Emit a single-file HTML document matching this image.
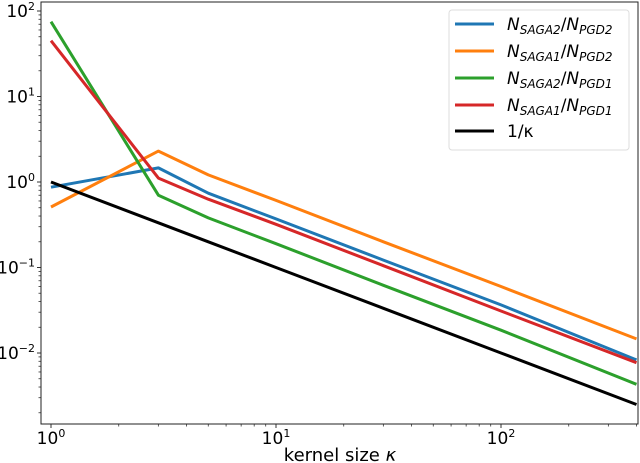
<!DOCTYPE html>
<html><head><meta charset="utf-8"><style>
html,body{margin:0;padding:0;background:#fff;}
svg{display:block;font-family:"DejaVu Sans","Liberation Sans",sans-serif;}
</style></head><body>
<svg id="chart" width="640" height="463" viewBox="0 0 640 463"></svg>
<script>
const kappa = [1, 3, 5, 10, 30, 100, 400];
const saga2pgd2 = [0.87, 1.46, 0.74, 0.37, 0.122, 0.0365, 0.0083];
const saga1pgd2 = [0.51, 2.3, 1.21, 0.61, 0.20, 0.06, 0.0146];
const saga2pgd1 = [75, 0.70, 0.38, 0.19, 0.062, 0.0185, 0.0043];
const saga1pgd1 = [45, 1.11, 0.63, 0.32, 0.105, 0.031, 0.0077];
const invKappa = [1, 0.3333, 0.2, 0.1, 0.0333, 0.01, 0.0025];
const xTickVals = [1, 10, 100];
const xTickExp = ["0", "1", "2"];
const yTickVals = [100, 10, 1, 0.1, 0.01];
const yTickExp = ["2", "1", "0", "\u22121", "\u22122"];

const NS = "http://www.w3.org/2000/svg";
const svg = document.getElementById("chart");
const L = 41, R = 638, T = 2, B = 424;
const xDec = 225, x0 = 51;
const yDec = 85.5, y0 = 182;
function xs(v){ return x0 + Math.log10(v) * xDec; }
function ys(v){ return y0 - Math.log10(v) * yDec; }
function mk(tag, attrs){ const e = document.createElementNS(NS, tag); for (const k in attrs) e.setAttribute(k, attrs[k]); svg.appendChild(e); return e; }

const clip = mk("clipPath", {id: "pc"});
const cr = document.createElementNS(NS, "rect");
cr.setAttribute("x", L); cr.setAttribute("y", T); cr.setAttribute("width", R - L); cr.setAttribute("height", B - T);
clip.appendChild(cr);

for (let d = -1; d <= 2; d++) for (let m = 2; m <= 9; m++) {
  const v = m * Math.pow(10, d); const x = xs(v);
  if (x > L && x < R) { const t = mk("line", {x1: x, x2: x, y1: B, y2: B + 2.5, stroke: "#333", "stroke-width": 0.8});
      }
}
for (let d = -3; d <= 2; d++) for (let m = 2; m <= 9; m++) {
  const v = m * Math.pow(10, d); const y = ys(v);
  if (y > T && y < B) { const t = mk("line", {x1: L - 2.5, x2: L, y1: y, y2: y, stroke: "#333", "stroke-width": 0.8});
      }
}
xTickVals.forEach((v, i) => {
  const x = xs(v);
  const t = mk("line", {x1: x, x2: x, y1: B, y2: B + 4, stroke: "#333", "stroke-width": 1});
   
  const tx = mk("text", {x: x, y: B + 20, "font-size": 17, "text-anchor": "middle"});
   
  tx.innerHTML = '10<tspan dy="-7" font-size="11">' + xTickExp[i] + '</tspan>';
});
yTickVals.forEach((v, i) => {
  const y = ys(v);
  const t = mk("line", {x1: L - 4, x2: L, y1: y, y2: y, stroke: "#333", "stroke-width": 1});
   
  const tx = mk("text", {x: L - 6, y: y + 6, "font-size": 17, "text-anchor": "end"});
   
  tx.innerHTML = '10<tspan dy="-7" font-size="11">' + yTickExp[i] + '</tspan>';
});

const series = [
  [saga2pgd2, "#1f77b4", "series-saga2-pgd2"],
  [saga1pgd2, "#ff7f0e", "series-saga1-pgd2"],
  [saga2pgd1, "#2ca02c", "series-saga2-pgd1"],
  [saga1pgd1, "#d62728", "series-saga1-pgd1"],
  [invKappa, "#000000", "series-inv-kappa"]
];
series.forEach(s => {
  const pts = kappa.map((k, i) => xs(k).toFixed(1) + "," + ys(s[0][i]).toFixed(1)).join(" ");
  const p = mk("polyline", {points: pts, fill: "none", stroke: s[1], "stroke-width": 3, "clip-path": "url(#pc)", "stroke-linejoin": "round"});
   
});

const frame = mk("rect", {x: L, y: T, width: R - L, height: B - T, fill: "none", stroke: "#222", "stroke-width": 1});
 

const xl = mk("text", {x: 340, y: 461, "font-size": 18, "text-anchor": "middle"});
 
xl.innerHTML = 'kernel size <tspan font-style="italic">κ</tspan>';

const lg = mk("rect", {x: 449, y: 10, width: 180, height: 140, rx: 3, fill: "#fff", stroke: "#ddd", "stroke-width": 1});
 
const labels = [["SAGA2","PGD2"],["SAGA1","PGD2"],["SAGA2","PGD1"],["SAGA1","PGD1"],null];
const ly = [24, 51, 78, 105, 131];
series.forEach((s, i) => {
  const l = mk("line", {x1: 455, x2: 494, y1: ly[i], y2: ly[i], stroke: s[1], "stroke-width": 3});
   
  const t = mk("text", {x: 507, y: ly[i] + 6, "font-size": 17});
   
  if (labels[i]) t.innerHTML = '<tspan font-style="italic">N</tspan><tspan font-style="italic" font-size="12" dy="4">' + labels[i][0] + '</tspan><tspan dy="-4">/</tspan><tspan font-style="italic">N</tspan><tspan font-style="italic" font-size="12" dy="4">' + labels[i][1] + '</tspan>';
  else t.textContent = '1/κ';
});
</script>
</body></html>
